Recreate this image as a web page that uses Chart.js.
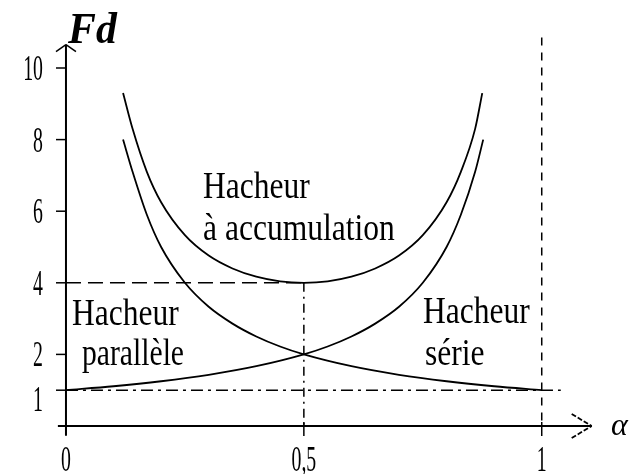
<!DOCTYPE html>
<html lang="fr">
<head>
<meta charset="utf-8">
<title>Facteur de dimensionnement Fd</title>
<script src="https://cdn.jsdelivr.net/npm/chart.js@4/dist/chart.umd.min.js"></script>
<style>
    html, body { margin: 0; padding: 0; background: #fff; }
    .chart-box { width: 635px; height: 474px; position: relative; }
</style>
</head>
<body>
<div class="chart-box"><canvas id="fdChart"></canvas></div>
<script>
// Fd as a function of the duty cycle alpha, per chopper type
const alphaAccum = [0.12, 0.14, 0.17, 0.2, 0.25, 0.3, 0.35, 0.4, 0.45, 0.5, 0.55, 0.6, 0.65, 0.7, 0.75, 0.8, 0.83, 0.86, 0.875];
const fdAccum    = [9.3, 8.3, 7.1, 6.25, 5.33, 4.76, 4.4, 4.17, 4.04, 4.0, 4.04, 4.17, 4.4, 4.76, 5.33, 6.25, 7.1, 8.3, 9.3];

const alphaSerie = [0.12, 0.14, 0.17, 0.2, 0.25, 0.3, 0.35, 0.4, 0.45, 0.5, 0.6, 0.7, 0.8, 0.9, 1.0];
const fdSerie    = [8.0, 7.1, 5.9, 5.0, 4.0, 3.33, 2.86, 2.5, 2.22, 2.0, 1.67, 1.43, 1.25, 1.11, 1.0];

const alphaPara  = [0, 0.1, 0.2, 0.3, 0.4, 0.5, 0.55, 0.6, 0.65, 0.7, 0.75, 0.8, 0.83, 0.86, 0.877];
const fdPara     = [1.0, 1.11, 1.25, 1.43, 1.67, 2.0, 2.22, 2.5, 2.86, 3.33, 4.0, 5.0, 5.9, 7.1, 8.0];

const yTicks = [1, 2, 4, 6, 8, 10];
const xTicks = [0, 0.5, 1];
const xTickLabels = ['0', '0,5', '1'];

const toPoints = (xs, ys) => xs.map((x, i) => ({ x: x, y: ys[i] }));

const curve = (label, xs, ys) => ({
    label: label,
    data: toPoints(xs, ys),
    showLine: true,
    borderColor: '#000',
    borderWidth: 1.8,
    pointRadius: 0,
    cubicInterpolationMode: 'monotone',
    fill: false
});

// condensed serif text, like the old scanned figure
function drawText(ctx, text, x, y, size, sx, style, align) {
    ctx.save();
    ctx.font = (style || '') + ' ' + size + 'px "Liberation Serif", "Times New Roman", serif';
    ctx.fillStyle = '#000';
    ctx.textAlign = align || 'left';
    ctx.textBaseline = 'alphabetic';
    ctx.translate(x, y);
    ctx.scale(sx, 1);
    ctx.fillText(text, 0, 0);
    ctx.restore();
}

function line(ctx, x1, y1, x2, y2, dash, width) {
    ctx.save();
    ctx.strokeStyle = '#000';
    ctx.lineWidth = width || 1.5;
    ctx.setLineDash(dash || []);
    ctx.beginPath();
    ctx.moveTo(x1, y1);
    ctx.lineTo(x2, y2);
    ctx.stroke();
    ctx.restore();
}

const axesPlugin = {
    id: 'fdAxes',
    beforeDatasetsDraw(chart) {
        const ctx = chart.ctx;
        const xs = chart.scales.x, ys = chart.scales.y;
        const px = v => xs.getPixelForValue(v);
        const py = v => ys.getPixelForValue(v);

        // guide lines
        line(ctx, px(0), py(4), px(0.5), py(4), [15, 7]);
        line(ctx, px(0.5), py(4), px(0.5), py(0), [9, 5, 2, 5]);
        line(ctx, px(0), py(1), px(1.04), py(1), [12, 5, 3, 5]);
        line(ctx, px(1), py(10.85), px(1), py(0), [8, 7]);

        // axes with arrows
        line(ctx, px(0), py(-0.25), px(0), py(10.65), null, 2);
        line(ctx, px(-0.017), py(0), px(1.105), py(0), null, 2);
        const tx = px(0), ty = py(10.65);
        line(ctx, tx - 10, ty + 7, tx, ty, null, 1.5);
        line(ctx, tx + 10, ty + 7, tx, ty, null, 1.5);
        const ax = px(1.105), ay = py(0);
        line(ctx, ax - 20, ay - 12, ax, ay, [5, 2], 1.8);
        line(ctx, ax - 20, ay + 12, ax, ay, [5, 2], 1.8);

        yTicks.forEach(v => line(ctx, px(0) - 10, py(v), px(0), py(v), null, 1.5));
        xTicks.forEach(v => line(ctx, px(v), py(0) - 4, px(v), py(0) + 10, null, 1.5));
    },
    afterDraw(chart) {
        const ctx = chart.ctx;
        const xs = chart.scales.x, ys = chart.scales.y;
        const px = v => xs.getPixelForValue(v);
        const py = v => ys.getPixelForValue(v);

        yTicks.forEach(v => {
            const shift = v === 1 ? 21 : 12;
            drawText(ctx, String(v), px(0) - 23, py(v) + shift, 36, 0.55, '', 'right');
        });
        xTicks.forEach((v, i) => {
            drawText(ctx, xTickLabels[i], px(v), py(0) + 45, 36, 0.55, '', 'center');
        });

        drawText(ctx, 'Fd', 68, 43, 44, 0.95, 'italic bold');
        drawText(ctx, 'α', 611, 435, 32, 1.0, 'italic');

        drawText(ctx, 'Hacheur', 203, 198, 38, 0.83);
        drawText(ctx, 'à accumulation', 203, 240, 38, 0.83);
        drawText(ctx, 'Hacheur', 72, 325, 38, 0.83);
        drawText(ctx, 'parallèle', 82, 365, 38, 0.78);
        drawText(ctx, 'Hacheur', 423, 323, 38, 0.83);
        drawText(ctx, 'série', 425, 365, 38, 0.83);
    }
};

const setupFdChart = () => {
    const ctx = document.getElementById('fdChart')?.getContext('2d');
    if (!ctx) return;

    new Chart(ctx, {
        type: 'scatter',
        data: {
            datasets: [
                curve('Hacheur à accumulation', alphaAccum, fdAccum),
                curve('Hacheur série', alphaSerie, fdSerie),
                curve('Hacheur parallèle', alphaPara, fdPara)
            ]
        },
        options: {
            responsive: true,
            maintainAspectRatio: false,
            animation: false,
            devicePixelRatio: 1,
            layout: {
                padding: { left: 18.4, right: 21.9, top: 14.3, bottom: 12.2 }
            },
            plugins: {
                legend: { display: false },
                tooltip: { enabled: false }
            },
            scales: {
                x: { type: 'linear', min: -0.1, max: 1.15, display: false },
                y: { type: 'linear', min: -1, max: 11.5, display: false }
            }
        },
        plugins: [axesPlugin]
    });
};

document.addEventListener('DOMContentLoaded', function() {
    setupFdChart();
});
</script>
</body>
</html>
